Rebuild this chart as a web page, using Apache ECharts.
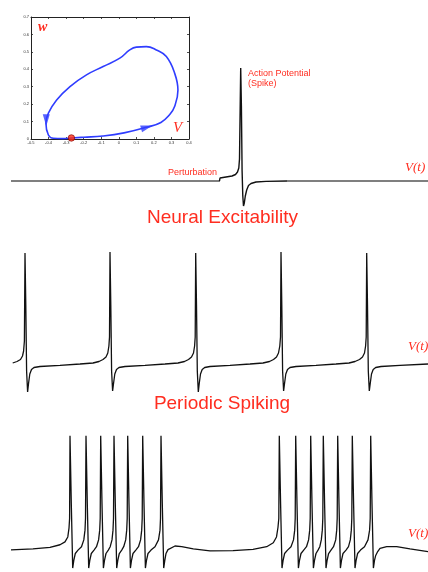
<!DOCTYPE html>
<html><head><meta charset="utf-8">
<script src="https://cdn.jsdelivr.net/npm/echarts/dist/echarts.min.js"></script>
<style>html,body{margin:0;padding:0;background:#fff}#c{width:428px;height:572px}</style>
</head><body><div id="c"></div>
<script>
// ---- Inset: phase plane (V, w) ----
const phaseLoop = [[-0.27,0.006],[-0.2,0.01],[-0.09,0.017],[0.03,0.035],[0.157,0.067],[0.24,0.095],[0.29,0.14],[0.318,0.186],[0.337,0.28],[0.318,0.378],[0.271,0.473],[0.214,0.511],[0.157,0.530],[0.10,0.527],[0.0625,0.511],[0.006,0.464],[-0.089,0.416],[-0.184,0.368],[-0.278,0.301],[-0.354,0.224],[-0.401,0.148],[-0.415,0.09],[-0.401,0.023],[-0.373,0.004],[-0.32,0.002],[-0.27,0.006]];
const restPoint = [[-0.27,0.006]];
const arrowPoints = [[0.16,0.068],[-0.413,0.108]];
const arrowAngles = [-74, 180];
const insetVRange = [-0.5, 0.4];
const insetWRange = [0, 0.7];

// ---- Neural excitability trace (t, V) ----
const excitRestBefore = [[11,-70],[220,-70]];
const excitSpike = [[219.5,-70],[220,-67],[226,-66],[232,-65],[235.5,-63.5],[237.5,-61],[238.8,-57],[239.5,-48],[240,-10],[240.7,43],[241.4,5],[242.1,-60],[242.8,-85],[243.5,-95],[244.3,-92],[245.3,-85],[246.7,-79],[248.5,-74.5],[251,-72.5],[256,-71],[266,-70.4],[287,-70]];
const excitRestAfter = [[287,-70],[428,-70]];

// ---- Periodic spiking trace (t, V) ----
const periodic = [[12.7,-70],[17,-68.5],[20.5,-66.5],[22.5,-63],[23.6,-58],[24.4,-48],[25,40],[25.8,-12],[26.6,-78],[27.6,-99],[28.6,-90],[29.8,-81],[31.5,-76.5],[34,-74.5],[40,-73.5],[60,-72.3],[80,-71],[93,-70],[99,-68.5],[103,-66.5],[106,-64],[107.8,-60],[108.9,-53],[109.5,-44],[110,41],[110.8,-12],[111.6,-78],[112.6,-98],[113.6,-90],[114.8,-81],[116.5,-76.5],[119,-74.5],[125,-73.5],[145,-72.3],[165,-71],[178,-70],[184.5,-68.5],[188.5,-66.5],[191.5,-64],[193.5,-60],[194.6,-53],[195.2,-44],[195.7,40],[196.5,-12],[197.3,-78],[198.3,-99],[199.3,-90],[200.5,-81],[202.2,-76.5],[204.7,-74.5],[210,-73.5],[230,-72.3],[250,-71],[263,-70],[269.5,-68.5],[273.5,-66.5],[276.5,-64],[278.5,-60],[279.8,-53],[280.5,-44],[281,41],[281.8,-12],[282.6,-78],[283.6,-98],[284.6,-90],[285.8,-81],[287.5,-76.5],[290,-74.5],[296,-73.5],[316,-72.3],[336,-71],[349,-70],[355,-68.5],[359.5,-66.5],[362.5,-64],[364.5,-60],[365.6,-53],[366.2,-44],[366.7,40],[367.5,-12],[368.3,-78],[369.3,-98],[370.3,-90],[371.5,-81],[373.2,-76.5],[375.7,-74.5],[381,-73.5],[400,-72.3],[428,-71]];

// ---- Bursting trace (t, V) ----
const bursting = [[11,-77.3],[33,-76.3],[50,-74.7],[60,-72],[65,-69],[67.8,-64],[69,-55],[69.6,-45],[70,40],
[71.3,-30],[72.7,-96],[73.8,-88],[75.3,-81],[78,-77.5],[81.5,-74],[83.8,-67],[85,-57],[85.5,-45],[86,40],
[87.3,-30],[88.7,-96],[89.8,-88],[91.3,-81],[94,-77.5],[96.5,-74],[98.6,-67],[99.7,-57],[100.2,-45],[100.7,40],
[102,-30],[103.4,-96],[104.5,-88],[106,-81],[108.3,-77.5],[110.2,-74],[112,-67],[113,-57],[113.5,-45],[114,40],
[115.3,-30],[116.7,-96],[117.8,-88],[119.3,-81],[121.7,-77.5],[123.7,-74],[125.7,-67],[126.7,-57],[127.2,-45],[127.7,40],
[129,-30],[130.4,-96],[131.5,-88],[133,-81],[135.8,-77.5],[138.5,-74],[140.6,-67],[141.7,-57],[142.2,-45],[142.7,40],
[144,-30],[145.4,-96],[146.5,-88],[148,-81],[151,-77.5],[155,-74],[158.5,-67],[160,-57],[160.5,-45],[161,40],
[162.3,-30],[163.7,-96],[164.8,-88],[166,-81],[168,-77],[170,-75.7],[175,-73.3],[181.7,-74],[193.3,-76.3],[210,-78.3],[233,-78],[253,-76.7],[266.7,-74],[273.3,-70],[276.5,-64],[278,-54],[278.8,-45],[279.3,40],
[280.6,-30],[282,-96],[283.1,-88],[284.6,-81],[287.5,-77.5],[291,-74],[293.5,-67],[294.7,-57],[295.2,-45],[295.7,40],
[297,-30],[298.4,-96],[299.5,-88],[301,-81],[303.7,-77.5],[306.5,-74],[308.6,-67],[309.7,-57],[310.2,-45],[310.7,40],
[312,-30],[313.4,-96],[314.5,-88],[316,-81],[318,-77.5],[319.8,-74],[321.3,-67],[322.3,-57],[322.8,-45],[323.3,40],
[324.6,-30],[326,-96],[327.1,-88],[328.6,-81],[331,-77.5],[333.5,-74],[335.7,-67],[336.7,-57],[337.2,-45],[337.7,40],
[339,-30],[340.4,-96],[341.5,-88],[343,-81],[346,-77.5],[348.5,-74],[350.3,-67],[351.3,-57],[351.8,-45],[352.3,40],
[353.6,-30],[355,-96],[356.1,-88],[357.6,-81],[360.5,-77.5],[364.5,-74],[368,-67],[369.6,-57],[370.2,-45],[370.7,40],
[372,-30],[373.4,-96],[374.5,-88],[375.7,-83],[377.7,-79],[380,-75.7],[386.7,-74],[396.7,-74],[410,-76.3],[428,-79]];

// ---- Texts ----
const titleTexts = ['Neural Excitability', 'Periodic Spiking'];
const spikeLabel = ['Action Potential', '(Spike)'];
const perturbLabel = 'Perturbation';
const traceLabel = 'V(t)';
const insetLabels = ['w', 'V'];

const RED = '#ff2d20';
const fmt = v => { const r = Math.round(v * 10) / 10; return r === 0 ? '0' : String(r); };

function insetX(pos, labels) {
  return { gridIndex: 0, type: 'value', min: insetVRange[0], max: insetVRange[1], interval: 0.1, position: pos,
    axisLine: { show: true, onZero: false, lineStyle: { color: '#222', width: 1 } },
    axisTick: { show: true, inside: true, length: 2, lineStyle: { color: '#222', width: 0.8 } },
    axisLabel: { show: labels, fontSize: 4, color: '#333', margin: 2, formatter: fmt, fontFamily: 'Liberation Sans' },
    splitLine: { show: false } };
}
function insetY(pos, labels) {
  return { gridIndex: 0, type: 'value', min: insetWRange[0], max: insetWRange[1], interval: 0.1, position: pos,
    axisLine: { show: true, onZero: false, lineStyle: { color: '#222', width: 1 } },
    axisTick: { show: true, inside: true, length: 2, lineStyle: { color: '#222', width: 0.8 } },
    axisLabel: { show: labels, fontSize: 4, color: '#333', margin: 2, formatter: fmt, fontFamily: 'Liberation Sans' },
    splitLine: { show: false } };
}
const hiddenX = g => ({ gridIndex: g, type: 'value', min: 0, max: 428, show: false });
const hiddenY = (g, mn, mx) => ({ gridIndex: g, type: 'value', min: mn, max: mx, show: false });

const traceLine = (xi, data, color, w) => ({
  type: 'line', xAxisIndex: xi, yAxisIndex: xi, data, symbol: 'none', animation: false,
  lineStyle: { color, width: w }, smooth: false, z: 3
});

const chart = echarts.init(document.getElementById('c'), null, { renderer: 'canvas' });
chart.setOption({
  animation: false,
  backgroundColor: '#fff',
  grid: [
    { left: 31, top: 17, width: 158, height: 122 },
    { left: 0, top: 61, width: 428, height: 150 },
    { left: 0, top: 243, width: 428, height: 160 },
    { left: 0, top: 426, width: 428, height: 150 }
  ],
  xAxis: [insetX('bottom', true), hiddenX(1), hiddenX(2), hiddenX(3), insetX('top', false)],
  yAxis: [insetY('left', true), hiddenY(1, -100, 50), hiddenY(2, -110, 50), hiddenY(3, -100, 50), insetY('right', false)],
  series: [
    { type: 'line', xAxisIndex: 0, yAxisIndex: 0, data: phaseLoop, smooth: 0.45, symbol: 'none',
      lineStyle: { color: '#2f3dff', width: 1.6 }, z: 3 },
    { type: 'scatter', xAxisIndex: 0, yAxisIndex: 0, symbol: 'triangle', symbolSize: [7, 12],
      data: arrowPoints.map((p, i) => ({ value: p, symbolRotate: arrowAngles[i] })),
      itemStyle: { color: '#2f3dff' }, z: 4 },
    { type: 'scatter', xAxisIndex: 0, yAxisIndex: 0, symbol: 'circle', symbolSize: 6.5, data: restPoint,
      itemStyle: { color: '#ff2a10', borderColor: '#7a0000', borderWidth: 0.8 }, z: 5 },
    { type: 'line', xAxisIndex: 4, yAxisIndex: 4, data: [], symbol: 'none' },
    traceLine(1, excitRestBefore, '#555', 1.4),
    traceLine(1, excitRestAfter, '#555', 1.4),
    traceLine(1, excitSpike, '#111', 1.4),
    traceLine(2, periodic, '#111', 1.3),
    traceLine(3, bursting, '#111', 1.3)
  ],
  graphic: [
    { type: 'text', style: { text: titleTexts[0], x: 222.5, y: 218, fill: RED, font: '19px "Liberation Sans", Arial, sans-serif', textAlign: 'center', textVerticalAlign: 'middle' } },
    { type: 'text', style: { text: titleTexts[1], x: 222, y: 403.5, fill: RED, font: '19px "Liberation Sans", Arial, sans-serif', textAlign: 'center', textVerticalAlign: 'middle' } },
    { type: 'text', style: { text: spikeLabel[0], x: 248, y: 73.5, fill: RED, font: '9px "Liberation Sans", Arial, sans-serif', textAlign: 'left', textVerticalAlign: 'middle' } },
    { type: 'text', style: { text: spikeLabel[1], x: 248, y: 84, fill: RED, font: '9px "Liberation Sans", Arial, sans-serif', textAlign: 'left', textVerticalAlign: 'middle' } },
    { type: 'text', style: { text: perturbLabel, x: 217, y: 172.5, fill: RED, font: '9px "Liberation Sans", Arial, sans-serif', textAlign: 'right', textVerticalAlign: 'middle' } },
    { type: 'text', style: { text: traceLabel, x: 405, y: 168, fill: RED, font: 'italic 13px "Liberation Serif", serif', textAlign: 'left', textVerticalAlign: 'middle' } },
    { type: 'text', style: { text: traceLabel, x: 408, y: 347, fill: RED, font: 'italic 13px "Liberation Serif", serif', textAlign: 'left', textVerticalAlign: 'middle' } },
    { type: 'text', style: { text: traceLabel, x: 408, y: 534, fill: RED, font: 'italic 13px "Liberation Serif", serif', textAlign: 'left', textVerticalAlign: 'middle' } },
    { type: 'text', style: { text: insetLabels[0], x: 38, y: 27.5, fill: RED, font: 'italic bold 14px "Liberation Serif", serif', textAlign: 'left', textVerticalAlign: 'middle' } },
    { type: 'text', style: { text: insetLabels[1], x: 173, y: 128, fill: RED, font: 'italic 15px "Liberation Serif", serif', textAlign: 'left', textVerticalAlign: 'middle' } }
  ]
});
</script>
</body></html>
